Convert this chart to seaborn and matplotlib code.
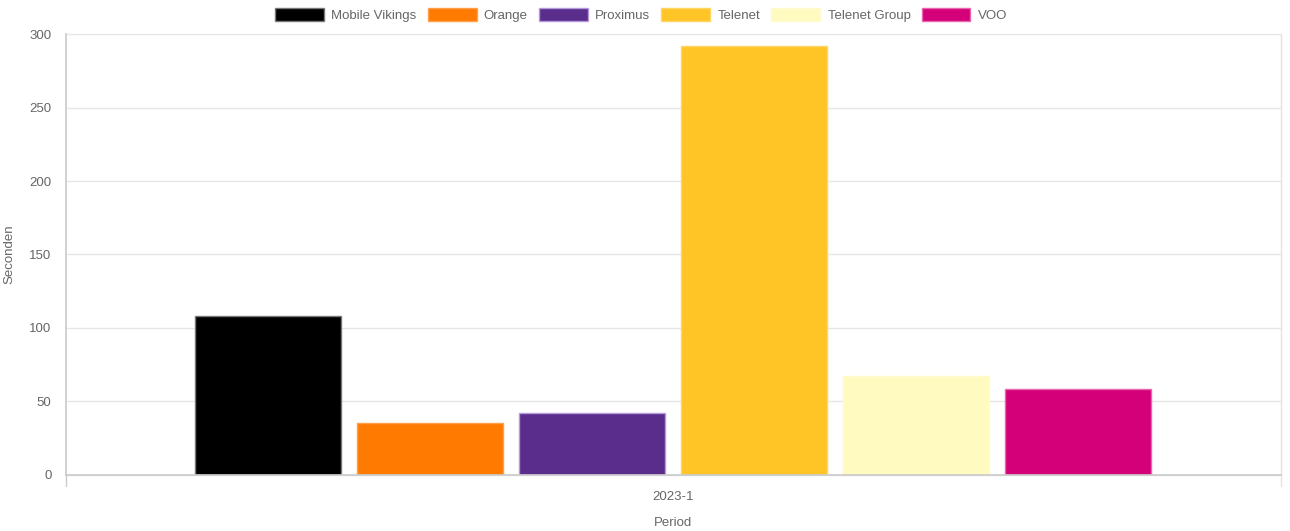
import matplotlib
matplotlib.use("Agg")
import matplotlib.pyplot as plt
import seaborn as sns
import pandas as pd

periods = ["2023-1"]
operators = ["Mobile Vikings", "Orange", "Proximus", "Telenet", "Telenet Group", "VOO"]
values = [108, 35, 42, 292, 67, 58]
colors = ["#000000", "#FF7A00", "#5A2D8C", "#FFC425", "#FFFBC0", "#D4007A"]
edge_colors = ["#777777", "#FFA04D", "#B49ADB", "#FFD666", "#FFFBD0", "#E866AE"]
yticks = [0, 50, 100, 150, 200, 250, 300]

df = pd.DataFrame({"Period": periods * len(operators), "Operator": operators, "Seconden": values})

sns.set_theme(style="white")
plt.rcParams["font.family"] = ["Liberation Sans", "DejaVu Sans"]

W, H = 1290, 531
fig = plt.figure(figsize=(W / 100, H / 100), dpi=100)
ax = fig.add_axes([65.5 / W, (H - 474.5) / H, (1281 - 65.5) / W, (474.5 - 34.5) / H])

sns.barplot(data=df, x="Period", y="Seconden", hue="Operator", hue_order=operators,
            palette=colors, width=0.8, gap=0.1, ax=ax, legend=False, saturation=1,
            linewidth=1)
for patch, ec in zip(ax.patches, edge_colors):
    patch.set_edgecolor(ec)

ax.set_xlim(-0.5, 0.5)
ax.set_ylim(0, 300)
ax.set_yticks(yticks)
ax.set_yticklabels([str(t) for t in yticks], color="#666666", fontsize=9.5)
ax.set_xticklabels(periods, color="#666666", fontsize=9.5)
ax.grid(axis="y", color="#e6e6e6", linewidth=1)
for gl in ax.get_ygridlines():
    gl.set_clip_on(False)
ax.set_axisbelow(True)
for s in ["top", "right"]:
    ax.spines[s].set_visible(False)
ax.spines["left"].set_color("#cccccc")
ax.spines["bottom"].set_color("#cccccc")
ax.spines["left"].set_bounds(0, 300)
ax.plot([0.5, 0.5], [-7.5, 300], color="#e3e3e3", lw=1, clip_on=False, zorder=0)
ax.tick_params(axis="y", length=8, color="#e6e6e6", pad=2, width=1)
ax.tick_params(axis="x", length=0, pad=12)
ax.plot([-0.5, -0.5], [0, -7.5], color="#cccccc", lw=1, clip_on=False)

ax.set_xlabel("Period", color="#666666", fontsize=9.5, labelpad=10)
ax.set_ylabel("Seconden", color="#666666", fontsize=9.5, labelpad=10)

handles = [plt.Rectangle((0, 0), 1, 1, facecolor=c, edgecolor=e, linewidth=1)
           for c, e in zip(colors, edge_colors)]
fig.legend(handles, operators, loc="center", bbox_to_anchor=(0.497, 1 - 15 / H), ncol=6,
           frameon=False, fontsize=9.5, labelcolor="#666666", handlelength=3.7,
           handleheight=1.1, handletextpad=0.55, columnspacing=0.85, borderpad=0)

fig.savefig("out.png", dpi=100)
